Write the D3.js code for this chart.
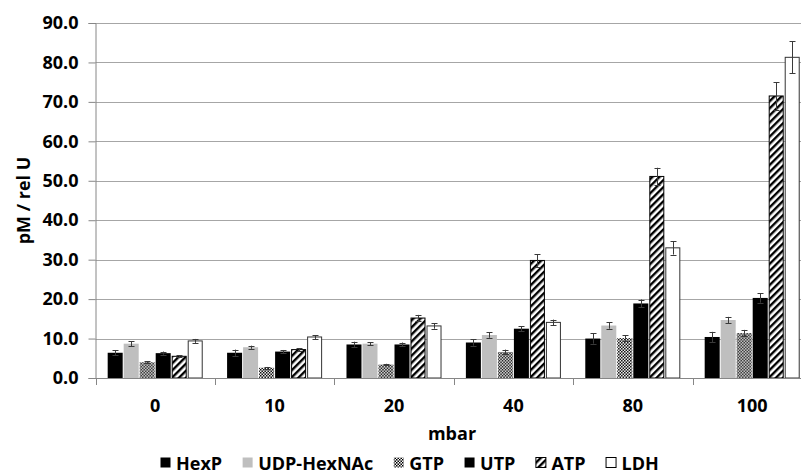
<!DOCTYPE html>
<html>
<head>
<meta charset="utf-8">
<script src="https://cdn.jsdelivr.net/npm/d3@7"></script>
<style>
  html, body { margin: 0; padding: 0; background: #fff; }
  svg { display: block; }
  text { font-family: "Open Sans", "Noto Sans", sans-serif; font-weight: bold; fill: #000; }
</style>
</head>
<body>
<svg id="chart" width="801" height="474"></svg>
<script>
// ---- data ----
const categories = ["0", "10", "20", "40", "80", "100"];
const seriesNames = ["HexP", "UDP-HexNAc", "GTP", "UTP", "ATP", "LDH"];
const hexP      = [6.4, 6.4, 8.5, 9.0, 10.0, 10.4];
const hexPErr   = [0.6, 0.8, 0.7, 0.8, 1.3, 1.3];
const udp       = [8.7, 7.8, 8.7, 10.9, 13.3, 14.7];
const udpErr    = [0.6, 0.4, 0.4, 0.7, 0.8, 0.8];
const gtp       = [4.0, 2.6, 3.4, 6.6, 10.1, 11.4];
const gtpErr    = [0.2, 0.2, 0.2, 0.6, 0.7, 0.8];
const utp       = [6.3, 6.7, 8.5, 12.5, 18.9, 20.3];
const utpErr    = [0.4, 0.4, 0.5, 0.6, 1.0, 1.2];
const atp       = [5.5, 7.2, 15.2, 29.8, 51.1, 71.5];
const atpErr    = [0.3, 0.4, 0.8, 1.6, 2.2, 3.5];
const ldh       = [9.4, 10.4, 13.2, 14.1, 33.0, 81.3];
const ldhErr    = [0.5, 0.5, 0.7, 0.7, 1.7, 4.1];
const yTicks    = [0, 10, 20, 30, 40, 50, 60, 70, 80, 90];
const yTitle = "pM / rel U";
const xTitle = "mbar";

const seriesValues = [hexP, udp, gtp, utp, atp, ldh];
const seriesErrors = [hexPErr, udpErr, gtpErr, utpErr, atpErr, ldhErr];

// ---- layout ----
const svg = d3.select("#chart");
const plotLeft = 95.5, plotRight = 811.9, plotTop = 23, plotBottom = 378;
const fs = 18;

const defs = svg.append("defs");
// checker pattern for GTP
const chk = defs.append("pattern").attr("id", "checker")
  .attr("patternUnits", "userSpaceOnUse").attr("width", 3).attr("height", 3);
chk.append("rect").attr("width", 3).attr("height", 3).attr("fill", "#fff");
chk.append("rect").attr("x", 0).attr("y", 0).attr("width", 1.5).attr("height", 1.5).attr("fill", "#000");
chk.append("rect").attr("x", 1.5).attr("y", 1.5).attr("width", 1.5).attr("height", 1.5).attr("fill", "#000");
// diagonal hatch for ATP
const hatch = defs.append("pattern").attr("id", "hatch")
  .attr("patternUnits", "userSpaceOnUse").attr("width", 5).attr("height", 5)
  .attr("patternTransform", "rotate(45)");
hatch.append("rect").attr("width", 5).attr("height", 5).attr("fill", "#fff");
hatch.append("rect").attr("width", 2.4).attr("height", 5).attr("fill", "#000");

const fills = ["#000000", "#bfbfbf", "url(#checker)", "#000000", "url(#hatch)", "#ffffff"];
const strokes = ["none", "none", "none", "none", "#000", "#333"];

const x0 = d3.scaleBand().domain(categories).range([plotLeft, plotRight]).paddingInner(0).paddingOuter(0);
const x1 = d3.scaleBand().domain(seriesNames).range([0, x0.bandwidth()]).paddingInner(0).paddingOuter(0.73);
const y = d3.scaleLinear().domain([0, 90]).range([plotBottom, plotTop]);

// gridlines
svg.append("g").selectAll("line").data(yTicks.filter(d => d > 0)).join("line")
  .attr("x1", plotLeft).attr("x2", plotRight)
  .attr("y1", d => Math.round(y(d)) + 0.5).attr("y2", d => Math.round(y(d)) + 0.5)
  .attr("stroke", "#a6a6a6").attr("stroke-width", 1);

// y axis
const yAxis = svg.append("g").attr("transform", `translate(${plotLeft},0)`)
  .call(d3.axisLeft(y).tickValues(yTicks).tickSize(7).tickPadding(10).tickFormat(d3.format(".1f")));
yAxis.select(".domain").attr("stroke", "#868686");
yAxis.selectAll(".tick line").attr("stroke", "#868686");
yAxis.selectAll(".tick text").attr("font-size", fs).attr("font-family", "'Open Sans', sans-serif").attr("font-weight", "bold").attr("fill", "#000");

// bars
const groups = svg.append("g").selectAll("g").data(categories).join("g")
  .attr("transform", d => `translate(${x0(d)},0)`);
groups.each(function(cat, ci) {
  const g = d3.select(this);
  seriesNames.forEach((s, si) => {
    const v = seriesValues[si][ci];
    g.append("rect")
      .attr("x", x1(s) + (strokes[si] === "none" ? 0.5 : 1))
      .attr("y", y(v))
      .attr("width", x1.bandwidth() - (strokes[si] === "none" ? 1 : 2))
      .attr("height", y(0) - y(v))
      .attr("fill", fills[si])
      .attr("stroke", strokes[si])
      .attr("stroke-width", 1);
  });
});

// x axis
const xAxis = svg.append("g").attr("transform", `translate(0,${plotBottom})`);
xAxis.append("line").attr("x1", plotLeft).attr("x2", plotRight).attr("y1", 0.5).attr("y2", 0.5).attr("stroke", "#868686");
const boundaries = categories.map(c => x0(c)).concat([x0(categories[categories.length - 1]) + x0.bandwidth()]);
xAxis.selectAll("line.tk").data(boundaries).join("line").attr("class", "tk")
  .attr("x1", d => Math.round(d) + 0.5).attr("x2", d => Math.round(d) + 0.5)
  .attr("y1", 0).attr("y2", 7).attr("stroke", "#868686");
xAxis.selectAll("text").data(categories).join("text")
  .attr("x", d => x0(d) + x0.bandwidth() / 2)
  .attr("y", 34)
  .attr("text-anchor", "middle")
  .attr("font-size", fs)
  .text(d => d);

// error bars
const errG = svg.append("g");
categories.forEach((cat, ci) => {
  seriesNames.forEach((s, si) => {
    const v = seriesValues[si][ci], e = seriesErrors[si][ci];
    const cx = Math.round(x0(cat) + x1(s) + x1.bandwidth() / 2) + 0.5;
    const y1 = y(v + e), y2 = y(v - e);
    errG.append("line").attr("x1", cx).attr("x2", cx).attr("y1", y1).attr("y2", y2)
      .attr("stroke", "#3a3a3a").attr("stroke-width", 1);
    [y1, y2].forEach(yy => {
      errG.append("line").attr("x1", cx - 3).attr("x2", cx + 3)
        .attr("y1", Math.round(yy) + 0.5).attr("y2", Math.round(yy) + 0.5)
        .attr("stroke", "#3a3a3a").attr("stroke-width", 1);
    });
  });
});

// axis titles
svg.append("text")
  .attr("transform", `translate(30,${(plotTop + plotBottom) / 2}) rotate(-90)`)
  .attr("text-anchor", "middle")
  .attr("font-size", fs)
  .text(yTitle);
svg.append("text")
  .attr("x", 452).attr("y", 440)
  .attr("text-anchor", "middle")
  .attr("font-size", fs)
  .text(xTitle);

// legend
const legend = svg.append("g");
let lx = 160;
const ly = 470;
seriesNames.forEach((s, si) => {
  legend.append("rect").attr("x", lx + 0.5).attr("y", ly - 12.5).attr("width", 10).attr("height", 10)
    .attr("fill", fills[si]).attr("stroke", si >= 4 ? "#000" : "none");
  const t = legend.append("text").attr("x", lx + 16).attr("y", ly).attr("font-size", fs).text(s);
  lx += 16 + t.node().getComputedTextLength() + 20;
});
</script>
</body>
</html>
